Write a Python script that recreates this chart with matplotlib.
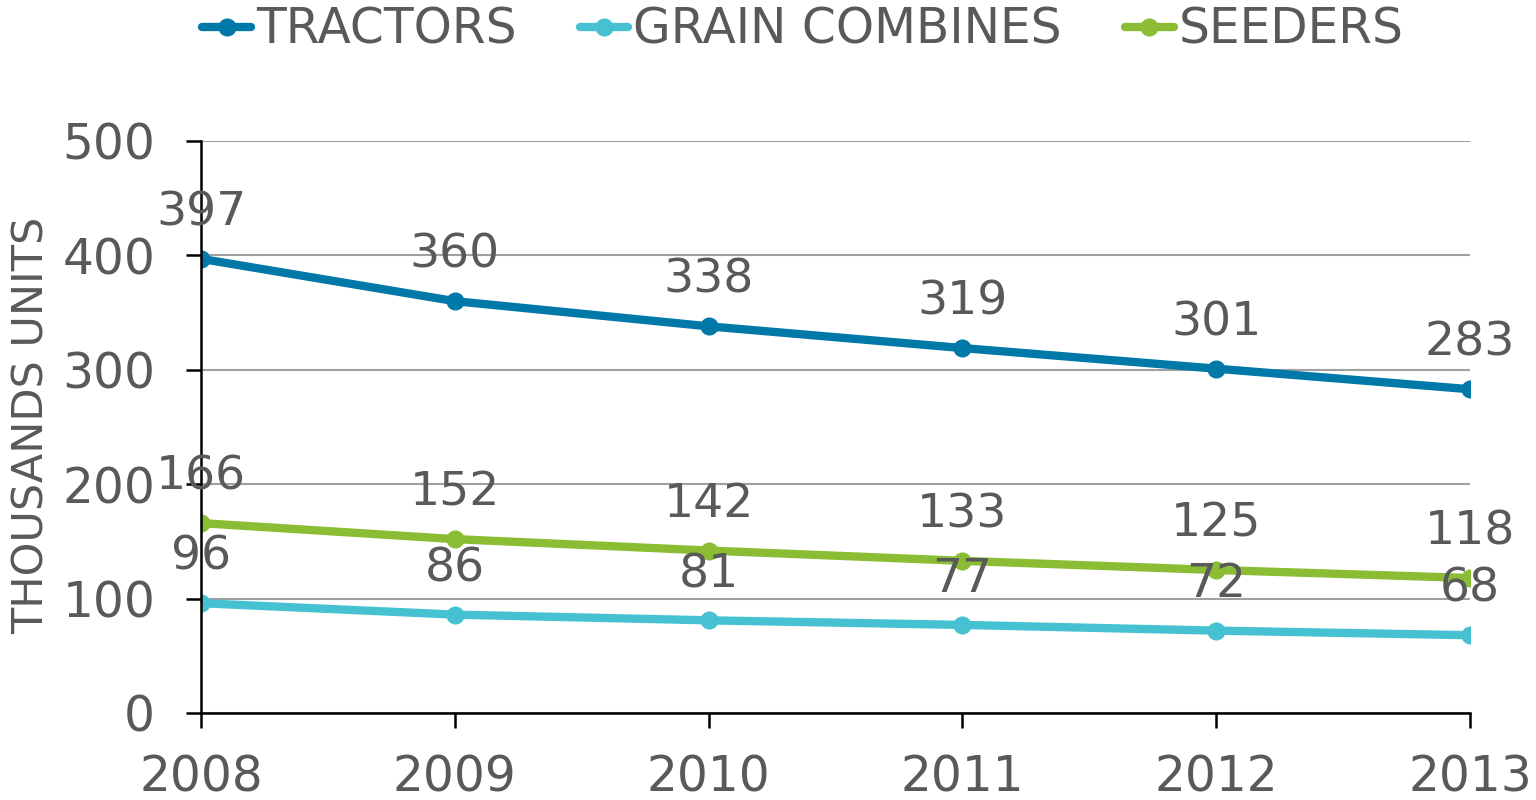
import matplotlib
matplotlib.use('Agg')
import matplotlib.pyplot as plt

years = [2008, 2009, 2010, 2011, 2012, 2013]
tractors = [397, 360, 338, 319, 301, 283]
combines = [96, 86, 81, 77, 72, 68]
seeders = [166, 152, 142, 133, 125, 118]

grey = '#595959'
plt.rcParams['font.family'] = ['DejaVu Sans']

fig = plt.figure(figsize=(15.36, 8), dpi=100)
ax = fig.add_axes([201/1536, 1-713/800, (1470-201)/1536, (713-141)/800])

series = [('TRACTORS', tractors, '#0079A9'),
          ('GRAIN COMBINES', combines, '#45C1D2'),
          ('SEEDERS', seeders, '#8ABD33')]
for name, vals, col in series:
    ax.plot(years, vals, color=col, lw=6, marker='o', ms=12, label=name,
            solid_capstyle='round')
    for x, y in zip(years, vals):
        ax.annotate(str(y), (x, y), xytext=(0, 33), textcoords='offset points',
                    ha='center', va='center', fontsize=34, color=grey)

ax.set_xlim(2008, 2013)
ax.set_ylim(0, 500)
ax.set_xticks(years)
ax.set_yticks([0, 100, 200, 300, 400, 500])
ax.grid(axis='y', color='#a0a0a0', lw=1.5)
ax.set_axisbelow(True)
for s in ['top', 'right']:
    ax.spines[s].set_visible(False)
for s in ['left', 'bottom']:
    ax.spines[s].set_linewidth(1.8)
ax.tick_params(axis='both', length=11, width=1.8, labelsize=35, labelcolor=grey,
               direction='out')
ax.tick_params(axis='x', pad=18)
ax.tick_params(axis='y', pad=22)
fig.text(32/1536, 1-425/800, 'THOUSANDS UNITS', rotation=90, ha='center', va='center',
         fontsize=31, color=grey)

fig.legend(loc='center', bbox_to_anchor=(803/1536, 1-30/800), ncol=3, frameon=False,
           fontsize=35, labelcolor=grey, handlelength=1.0, handletextpad=0.1,
           columnspacing=1.3)

fig.savefig('out.png', dpi=100)
